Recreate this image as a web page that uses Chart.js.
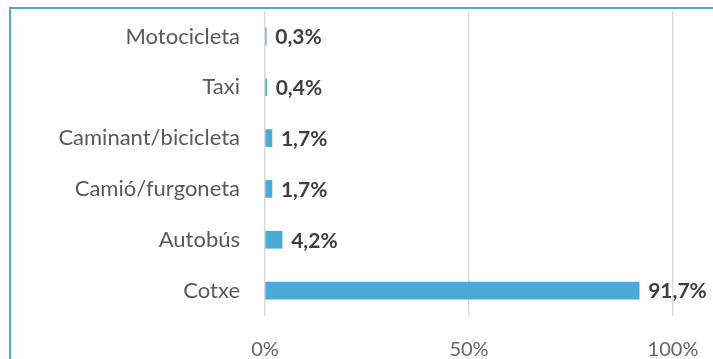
<!DOCTYPE html>
<html>
<head>
<meta charset="utf-8">
<script src="https://cdn.jsdelivr.net/npm/chart.js@4"></script>
<style>
  html, body { margin: 0; padding: 0; background: #fff; }
  #wrap { position: relative; width: 713px; height: 359px; overflow: hidden; }
  #marc { position: absolute; left: 9px; top: 7px; width: 800px; height: 400px; border: 2px solid #4fa9c9; }
  #grafic { position: absolute; left: 0; top: 0; }
</style>
</head>
<body>
<div id="wrap">
  <div id="marc"></div>
  <canvas id="grafic" width="713" height="359"></canvas>
</div>
<script>
// modes de transport i percentatges
const categories = ['Motocicleta', 'Taxi', 'Caminant/bicicleta', 'Camió/furgoneta', 'Autobús', 'Cotxe'];
const valors = [0.3, 0.4, 1.7, 1.7, 4.2, 91.7];
const ticksX = [0, 50, 100];

const FONT = 'Lato, "Open Sans", sans-serif';

// etiquetes de valor al final de cada barra
const etiquetes = {
    id: 'etiquetes',
    afterDatasetsDraw(chart) {
        const ctx = chart.ctx;
        const meta = chart.getDatasetMeta(0);
        ctx.save();
        ctx.font = 'bold 21px ' + FONT;
        ctx.fillStyle = '#404040';
        ctx.textBaseline = 'middle';
        ctx.textAlign = 'left';
        meta.data.forEach((bar, i) => {
            const txt = valors[i].toFixed(1).replace('.', ',') + '%';
            ctx.fillText(txt, bar.x + 9, bar.y + 1);
        });
        ctx.restore();
    }
};

new Chart(document.getElementById('grafic'), {
    type: 'bar',
    data: {
        labels: categories,
        datasets: [{
            data: valors,
            backgroundColor: '#49aad6',
            barThickness: 17,
        }]
    },
    options: {
        indexAxis: 'y',
        responsive: false,
        animation: false,
        layout: { padding: { top: 11, right: 40, left: 0, bottom: 0 } },
        plugins: {
            legend: { display: false },
            tooltip: { enabled: false },
        },
        scales: {
            x: {
                min: 0,
                max: 100,
                afterBuildTicks: axis => { axis.ticks = ticksX.map(v => ({ value: v })); },
                grid: { color: '#d9d9d9', lineWidth: 1.5, drawTicks: false },
                border: { display: false },
                ticks: {
                    padding: 22,
                    color: '#666666',
                    font: { family: FONT, size: 20 },
                    callback: v => v + '%',
                },
                afterFit: axis => {
                    axis.height = 43;
                    axis.paddingLeft = 0;
                    axis.paddingRight = 0;
                },
            },
            y: {
                grid: { display: false, drawTicks: false },
                border: { display: false },
                ticks: {
                    padding: 25,
                    color: '#595959',
                    font: { family: FONT, size: 22 },
                },
                afterFit: axis => {
                    axis.width = 265;
                    axis.paddingTop = 0;
                    axis.paddingBottom = 0;
                },
            }
        }
    },
    plugins: [etiquetes]
});
</script>
</body>
</html>
